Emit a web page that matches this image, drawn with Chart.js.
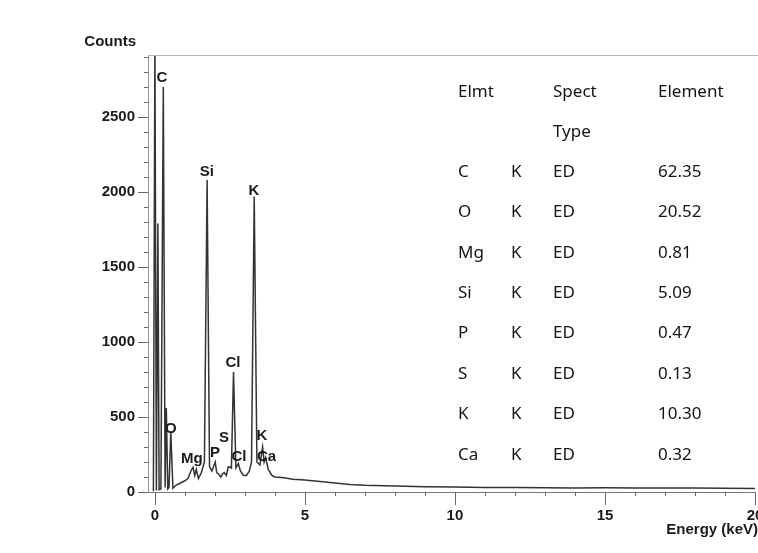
<!DOCTYPE html>
<html>
<head>
<meta charset="utf-8">
<script src="https://cdn.jsdelivr.net/npm/chart.js@4.4.0/dist/chart.umd.min.js"></script>
<style>
	html, body { margin: 0; padding: 0; background: #fff; }
	#wrap { width: 758px; height: 553px; position: relative; }
</style>
</head>
<body>
<div id="wrap"><canvas id="eds-chart"></canvas></div>
<script>
'use strict';

// Spectrum (energy in keV, counts)
var energyKeV = [-0.05, 0.0, 0.05, 0.1, 0.14, 0.2, 0.28, 0.34, 0.38, 0.43, 0.47, 0.53, 0.6, 0.7, 0.85, 1.0, 1.1, 1.2, 1.27, 1.33, 1.38, 1.45, 1.55, 1.65, 1.74, 1.82, 1.9, 2.01, 2.06, 2.12, 2.2, 2.25, 2.31, 2.38, 2.45, 2.55, 2.62, 2.7, 2.78, 2.85, 2.95, 3.05, 3.15, 3.22, 3.31, 3.4, 3.5, 3.59, 3.64, 3.69, 3.78, 3.9, 4.0, 4.3, 4.6, 5.0, 5.5, 6.0, 6.5, 7.0, 8.0, 9.0, 10.0, 11.0, 12.0, 13.0, 14.0, 15.0, 16.0, 17.0, 18.0, 19.0, 20.0];
var counts = [5, 3000, 10, 1790, 15, 20, 2700, 30, 560, 20, 30, 400, 25, 45, 60, 75, 90, 140, 165, 110, 150, 90, 130, 200, 2080, 170, 140, 200, 130, 120, 100, 120, 130, 110, 170, 160, 800, 160, 190, 140, 110, 110, 140, 200, 1970, 200, 180, 300, 200, 230, 150, 110, 100, 95, 85, 80, 70, 60, 50, 45, 40, 35, 33, 30, 30, 28, 27, 28, 27, 27, 26, 25, 24];

var xTicks = [0, 5, 10, 15, 20];
var yTicks = [0, 500, 1000, 1500, 2000, 2500];

// Peak labels
var peakNames = ['C', 'Si', 'K', 'Cl', 'O', 'Mg', 'P', 'S', 'Cl', 'K', 'Ca'];
var peakEnergy = [0.23, 1.73, 3.3, 2.6, 0.53, 1.23, 2.0, 2.3, 2.8, 3.57, 3.72];
var peakCounts = [2760, 2133, 2007, 860, 420, 220, 260, 360, 233, 373, 233];

// Quantification table
var tableElmt = ['C', 'O', 'Mg', 'Si', 'P', 'S', 'K', 'Ca'];
var tableLine = ['K', 'K', 'K', 'K', 'K', 'K', 'K', 'K'];
var tableType = ['ED', 'ED', 'ED', 'ED', 'ED', 'ED', 'ED', 'ED'];
var tableValue = ['62.35', '20.52', '0.81', '5.09', '0.47', '0.13', '10.30', '0.32'];

var labelFont = 'bold 15px "Liberation Sans", Arial, sans-serif';
var tableFont = '17px "Noto Sans", "DejaVu Sans", sans-serif';

var decorPlugin = {
	id: 'edsDecor',
	afterDraw: function(chart) {
		var ctx = chart.ctx;
		var area = chart.chartArea;
		var xs = chart.scales.x;
		var ys = chart.scales.y;
		var i, v, p;

		ctx.save();

		// frame top line
		ctx.strokeStyle = '#b5b5b5';
		ctx.lineWidth = 1;
		ctx.beginPath();
		ctx.moveTo(area.left, area.top + 0.5);
		ctx.lineTo(chart.width, area.top + 0.5);
		ctx.stroke();

		// y ticks: minor every 100, major every 500
		ctx.strokeStyle = '#666';
		for (v = 0; v <= 2900; v += 100) {
			p = Math.round(ys.getPixelForValue(v)) + 0.5;
			ctx.beginPath();
			ctx.moveTo(area.left - (v % 500 === 0 ? 10 : 4), p);
			ctx.lineTo(area.left, p);
			ctx.stroke();
		}

		// x ticks: minor every 1 keV, major every 5 keV
		for (v = 0; v <= 20; v += 1) {
			p = Math.round(xs.getPixelForValue(v)) + 0.5;
			ctx.beginPath();
			ctx.moveTo(p, area.bottom);
			ctx.lineTo(p, area.bottom + (v % 5 === 0 ? 13 : 4));
			ctx.stroke();
		}

		// axis titles
		ctx.fillStyle = '#1a1a1a';
		ctx.font = labelFont;
		ctx.textAlign = 'right';
		ctx.textBaseline = 'middle';
		ctx.fillText('Counts', 136, 42);
		ctx.fillText('Energy (keV)', 758, 530);

		// peak labels
		ctx.textAlign = 'center';
		for (i = 0; i < peakNames.length; i++) {
			ctx.fillText(peakNames[i], xs.getPixelForValue(peakEnergy[i]), ys.getPixelForValue(peakCounts[i]));
		}

		// table
		ctx.font = tableFont;
		ctx.textAlign = 'left';
		ctx.fillStyle = '#141414';
		ctx.fillText('Elmt', 458, 92);
		ctx.fillText('Spect', 553, 92);
		ctx.fillText('Element', 658, 92);
		ctx.fillText('Type', 553, 132);
		for (i = 0; i < tableElmt.length; i++) {
			var rowY = 172 + i * 40.4;
			ctx.fillText(tableElmt[i], 458, rowY);
			ctx.fillText(tableLine[i], 511, rowY);
			ctx.fillText(tableType[i], 553, rowY);
			ctx.fillText(tableValue[i], 658, rowY);
		}

		ctx.restore();
	}
};

var spectrum = energyKeV.map(function(e, i) {
	return { x: e, y: counts[i] };
});

var tickFont = { family: '"Liberation Sans", Arial, sans-serif', size: 15, weight: 'bold' };

new Chart(document.getElementById('eds-chart'), {
	type: 'line',
	data: {
		datasets: [ {
			data: spectrum,
			borderColor: '#333',
			borderWidth: 1.5,
			pointRadius: 0,
			tension: 0,
			fill: false
		} ]
	},
	options: {
		responsive: true,
		maintainAspectRatio: false,
		animation: false,
		layout: {
			padding: { top: 55, right: 3, left: 0, bottom: 0 }
		},
		scales: {
			x: {
				type: 'linear',
				min: -0.23,
				max: 20,
				grid: { display: false },
				border: { display: true, color: '#777', width: 1 },
				ticks: {
					font: tickFont,
					color: '#1a1a1a',
					padding: 7,
					maxRotation: 0,
					autoSkip: false,
					callback: function(value) { return String(value); }
				},
				afterBuildTicks: function(scale) {
					scale.ticks = xTicks.map(function(t) { return { value: t }; });
				},
				afterFit: function(scale) {
					scale.height = 61;
					scale.paddingLeft = 0;
					scale.paddingRight = 0;
				}
			},
			y: {
				min: 0,
				max: 2913,
				grid: { display: false },
				border: { display: true, color: '#999', width: 1 },
				ticks: {
					font: tickFont,
					color: '#1a1a1a',
					padding: 5,
					autoSkip: false,
					callback: function(value) { return String(value); }
				},
				afterBuildTicks: function(scale) {
					scale.ticks = yTicks.map(function(t) { return { value: t }; });
				},
				afterFit: function(scale) {
					scale.width = 148;
					scale.paddingTop = 0;
					scale.paddingBottom = 0;
				}
			}
		},
		plugins: {
			legend: { display: false },
			tooltip: { enabled: false }
		}
	},
	plugins: [ decorPlugin ]
});
</script>
</body>
</html>
